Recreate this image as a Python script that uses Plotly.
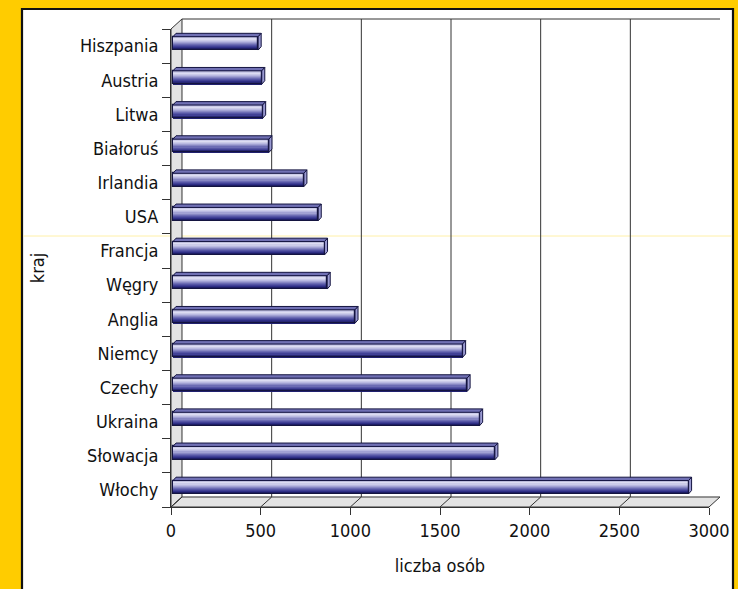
import plotly.graph_objects as go

# ---------------- data ----------------
countries = ["Hiszpania", "Austria", "Litwa", "Białoruś", "Irlandia", "USA", "Francja",
             "Węgry", "Anglia", "Niemcy", "Czechy", "Ukraina", "Słowacja", "Włochy"]
persons = [475, 495, 500, 535, 730, 810, 845, 860, 1015, 1615, 1640, 1710, 1795, 2875]
x_ticks = [0, 500, 1000, 1500, 2000, 2500, 3000]
x_title = "liczba osób"
y_title = "kraj"

# ---------------- geometry ----------------
W, H = 738, 589
L, R, T, B = 171, 29, 29, 82
PW, PH = W - L - R, H - T - B            # plot area (front plane)
XMAX = 3000
n = len(countries)
pos = list(range(n))
SX = PW / XMAX                            # px per unit
SY = PH / n                               # px per category
DBX, DBY = 11, 10                         # depth of back wall (px)

def px(xp):   # pixel x -> paper
    return (xp - L) / PW
def py(yp):   # pixel y -> paper
    return (H - B - yp) / PH

FONT = "DejaVu Sans Condensed, Liberation Sans Narrow, sans-serif"
FS = 18
LINE = "#333333"

# bar geometry (in data units)
b0 = 2 / SX
bw = 13.3 / SY
boc = -2.7 / SY
cdx = 3 / SX
cdy = -3.4 / SY

stops = [(0.0, (150, 150, 205)), (0.18, (226, 226, 245)), (0.4, (180, 180, 222)),
         (0.65, (100, 100, 175)), (0.85, (50, 50, 140)), (1.0, (25, 25, 100))]

def col(t):
    for (t0, c0), (t1, c1) in zip(stops[:-1], stops[1:]):
        if t0 <= t <= t1:
            f = (t - t0) / (t1 - t0)
            return "rgb(%d,%d,%d)" % tuple(round(a + (b - a) * f) for a, b in zip(c0, c1))
    return "rgb(%d,%d,%d)" % stops[-1][1]

fig = go.Figure()

NS = 12
for i in range(NS):
    fig.add_trace(go.Bar(
        y=pos, x=persons, base=b0, orientation="h",
        offset=boc - bw / 2 + i * bw / NS, width=bw / NS * 1.15,
        marker=dict(color=col((i + 0.5) / NS), line=dict(width=0)),
        hoverinfo="skip", showlegend=False))

# outline of the bar front face
fig.add_trace(go.Bar(
    y=pos, x=persons, base=b0, orientation="h",
    offset=boc - bw / 2, width=bw,
    marker=dict(color="rgba(0,0,0,0)", line=dict(color="#141440", width=1.2)),
    hovertext=countries, hoverinfo="x+text", showlegend=False))

# top caps and end caps
tx, ty, ex, ey = [], [], [], []
for p, v in zip(pos, persons):
    yt = p + boc - bw / 2
    yb = p + boc + bw / 2
    x1 = b0 + v
    tx += [b0, x1, x1 + cdx, b0 + cdx, b0, None]
    ty += [yt, yt, yt + cdy, yt + cdy, yt, None]
    ex += [x1, x1 + cdx, x1 + cdx, x1, x1, None]
    ey += [yt, yt + cdy, yb + cdy, yb, yt, None]
fig.add_trace(go.Scatter(x=tx, y=ty, mode="lines", fill="toself", fillcolor="#7070b4",
                         line=dict(color="#141440", width=1), hoverinfo="skip", showlegend=False))
fig.add_trace(go.Scatter(x=ex, y=ey, mode="lines", fill="toself", fillcolor="#9a9ad2",
                         line=dict(color="#141440", width=1), hoverinfo="skip", showlegend=False))

shapes = []
# white panel with black border
shapes.append(dict(type="rect", xref="paper", yref="paper", layer="below",
                   x0=px(22), x1=px(733), y0=py(600), y1=py(9),
                   fillcolor="white", line=dict(color="#111", width=2.2)))
# faint scan line
shapes.append(dict(type="line", xref="paper", yref="paper", layer="below",
                   x0=px(23), x1=px(732), y0=py(236), y1=py(236),
                   line=dict(color="#fff0a8", width=1)))
# left wall
shapes.append(dict(type="path", xref="paper", yref="paper", layer="below",
                   path="M %f %f L %f %f L %f %f L %f %f Z" % (
                       px(L), py(H - B), px(L), py(T), px(L + DBX), py(T - DBY), px(L + DBX), py(H - B - DBY)),
                   fillcolor="#e3e3e3", line=dict(color=LINE, width=1)))
# floor
shapes.append(dict(type="path", xref="paper", yref="paper", layer="below",
                   path="M %f %f L %f %f L %f %f L %f %f Z" % (
                       px(L), py(H - B), px(L + PW), py(H - B), px(L + PW + DBX), py(H - B - DBY), px(L + DBX), py(H - B - DBY)),
                   fillcolor="#e3e3e3", line=dict(color=LINE, width=1)))
# back wall top edge
shapes.append(dict(type="line", xref="paper", yref="paper", layer="below",
                   x0=px(L + DBX), x1=px(L + PW + DBX), y0=py(T - DBY), y1=py(T - DBY),
                   line=dict(color=LINE, width=1)))
# back grid lines + floor diagonals
dxd = DBX / SX
for v in x_ticks[1:]:
    shapes.append(dict(type="line", xref="x", yref="paper", layer="below",
                       x0=v + dxd, x1=v + dxd, y0=py(H - B - DBY), y1=py(T - DBY),
                       line=dict(color=LINE, width=1)))
for v in x_ticks:
    shapes.append(dict(type="line", xref="x", yref="paper", layer="below",
                       x0=v, x1=v + dxd, y0=0, y1=py(H - B - DBY),
                       line=dict(color=LINE, width=1)))

fig.update_layout(
    width=W, height=H,
    margin=dict(l=L, r=R, t=T, b=B, autoexpand=False),
    paper_bgcolor="#FFCC00", plot_bgcolor="rgba(0,0,0,0)",
    font=dict(family=FONT, size=FS, color="#111111"),
    barmode="overlay", bargap=0,
    shapes=shapes,
    xaxis=dict(range=[0, XMAX], tickvals=x_ticks, ticktext=[str(v) for v in x_ticks],
               showgrid=False, zeroline=False, showline=True, linecolor=LINE, linewidth=1,
               ticks="outside", ticklen=7, tickcolor=LINE,
               tickfont=dict(family=FONT, size=FS),
               title=dict(text=x_title, font=dict(family=FONT, size=FS), standoff=19),
               fixedrange=True),
    yaxis=dict(range=[n - 0.5, -0.5], tickvals=pos, ticktext=countries,
               showgrid=False, zeroline=False, showline=True, linecolor=LINE, linewidth=1,
               ticks="outside", ticklen=8, tickcolor="rgba(0,0,0,0)",
               minor=dict(tickmode="array", tickvals=[p - 0.5 for p in pos] + [n - 0.5],
                          ticks="outside", ticklen=8, tickcolor=LINE, showgrid=False),
               tickfont=dict(family=FONT, size=FS),
               title=dict(text=y_title, font=dict(family=FONT, size=FS), standoff=30),
               fixedrange=True),
)

fig.write_html("out.html", config={"displayModeBar": False},
               post_script="document.body.style.margin='0';document.body.style.overflow='hidden';")
